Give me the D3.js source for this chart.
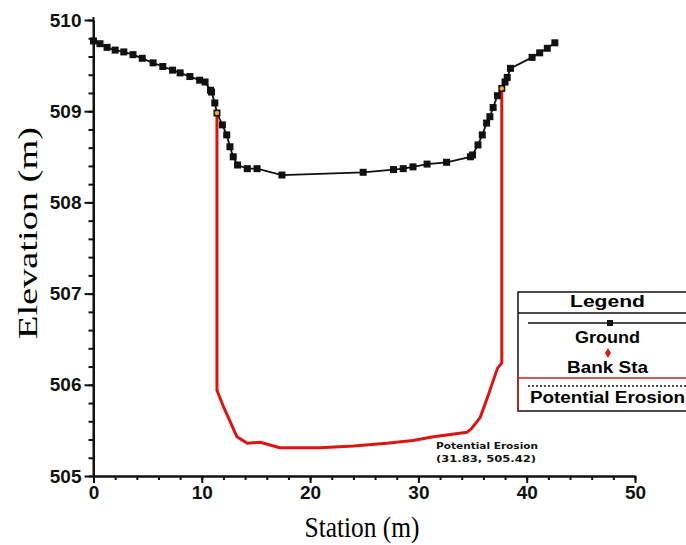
<!DOCTYPE html>
<html>
<head>
<meta charset="utf-8">
<script src="https://cdn.jsdelivr.net/npm/d3@7"></script>
<style>
    body { margin: 0; background: #fff; }
    svg { display: block; }
    .axis path, .axis line { stroke: #111; }
    .axis text { font-family: Arial, 'Liberation Sans', sans-serif; font-weight: bold; font-size: 19px; fill: #111; }
</style>
</head>
<body>
<div id="chart"></div>
<script>
// ground profile (station m, elevation m)
const groundStation = [0, 0.6, 1.25, 2.0, 2.8, 3.65, 4.5, 5.5, 6.4, 7.3, 8.0, 8.9, 9.8, 10.3, 10.8, 10.9, 11.2, 11.4,
    11.9, 12.3, 12.6, 12.9, 13.3, 14.2, 15.1, 17.4, 24.9, 27.7, 28.6, 29.5, 30.8, 32.6, 34.8,
    35.0, 35.5, 35.9, 36.3, 36.6, 36.9, 37.3, 37.7, 38.0, 38.2, 38.5, 40.5, 41.2, 41.9, 42.6];
const groundElevation = [509.77, 509.74, 509.70, 509.67, 509.65, 509.62, 509.58, 509.53, 509.49, 509.45, 509.42, 509.38, 509.34, 509.32, 509.23, 509.21, 509.09, 508.98,
    508.85, 508.74, 508.61, 508.50, 508.41, 508.37, 508.37, 508.30, 508.33, 508.36, 508.37, 508.39, 508.42, 508.44, 508.50,
    508.52, 508.63, 508.74, 508.87, 508.94, 509.04, 509.17, 509.25, 509.32, 509.37, 509.47, 509.59, 509.64, 509.69, 509.75];

// potential erosion profile
const erosionStation = [11.4, 11.4, 12.0, 13.25, 14.2, 15.4, 17.2, 20.9, 24.0, 27.1, 29.5, 31.4, 34.5, 34.9, 35.7, 36.4, 37.3, 37.7, 37.7];
const erosionElevation = [508.98, 505.94, 505.76, 505.43, 505.36, 505.37, 505.31, 505.31, 505.33, 505.36, 505.39, 505.43, 505.48, 505.52, 505.64, 505.87, 506.18, 506.24, 509.25];

// bank stations
const bankStation = [11.4, 37.7];
const bankElevation = [508.98, 509.25];

const xTicks = [0, 10, 20, 30, 40, 50];
const yTicks = [505, 506, 507, 508, 509, 510];

const annotation = ['Potential Erosion', '(31.83, 505.42)'];
const legendItems = ['Ground', 'Bank Sta', 'Potential Erosion'];

const W = 686, H = 545;
const margins = { left: 93.5, top: 20, right: 51, bottom: 69 };

const svg = d3.select('#chart').append('svg')
    .attr('width', W)
    .attr('height', H);

const x = d3.scaleLinear().domain([0, 50]).range([margins.left, W - margins.right]);
const y = d3.scaleLinear().domain([505, 510]).range([H - margins.bottom, margins.top]);

const ground = groundStation.map((s, i) => [s, groundElevation[i]]);
const erosion = erosionStation.map((s, i) => [s, erosionElevation[i]]);
const banks = bankStation.map((s, i) => [s, bankElevation[i]]);

const line = d3.line().x(d => x(d[0])).y(d => y(d[1]));

// Axes
const minorX = d3.range(0, 50.01, 2);
const minorY = d3.range(505, 510.01, 0.2);

svg.append('g')
    .attr('class', 'axis')
    .attr('transform', 'translate(0,' + y(505) + ')')
    .call(d3.axisBottom(x).tickValues(minorX).tickSize(4).tickSizeOuter(0).tickFormat(''))
    .call(g => g.selectAll('line, path').attr('stroke-width', 2));

svg.append('g')
    .attr('class', 'axis')
    .attr('transform', 'translate(0,' + y(505) + ')')
    .call(d3.axisBottom(x).tickValues(xTicks).tickSize(7).tickSizeOuter(0).tickPadding(3).tickFormat(d3.format('d')))
    .call(g => g.selectAll('line, path').attr('stroke-width', 2));

svg.append('g')
    .attr('class', 'axis')
    .attr('transform', 'translate(' + x(0) + ',0)')
    .call(d3.axisLeft(y).tickValues(minorY).tickSize(5).tickSizeOuter(0).tickFormat(''))
    .call(g => g.selectAll('line, path').attr('stroke-width', 2));

svg.append('g')
    .attr('class', 'axis')
    .attr('transform', 'translate(' + x(0) + ',0)')
    .call(d3.axisLeft(y).tickValues(yTicks).tickSize(9).tickSizeOuter(0).tickPadding(3).tickFormat(d3.format('d')))
    .call(g => g.selectAll('line, path').attr('stroke-width', 2))
    .call(g => g.select('.domain').attr('d', 'M0,' + y(505) + 'V' + (y(510) - 3)));

// Axis titles
svg.append('text')
    .attr('x', 362)
    .attr('y', 537)
    .attr('text-anchor', 'middle')
    .attr('font-family', "'Liberation Serif', 'Times New Roman', serif")
    .attr('font-size', 30)
    .attr('textLength', 115)
    .attr('lengthAdjust', 'spacingAndGlyphs')
    .text('Station (m)');

svg.append('text')
    .attr('transform', 'translate(37,233) rotate(-90)')
    .attr('text-anchor', 'middle')
    .attr('font-family', "'Liberation Serif', 'Times New Roman', serif")
    .attr('font-size', 27)
    .attr('textLength', 212)
    .attr('lengthAdjust', 'spacingAndGlyphs')
    .text('Elevation (m)');

// Erosion line
svg.append('path')
    .datum(erosion)
    .attr('fill', 'none')
    .attr('stroke', '#dc1414')
    .attr('stroke-width', 3)
    .attr('stroke-linejoin', 'round')
    .attr('d', line);

// Ground line
svg.append('path')
    .datum(ground)
    .attr('fill', 'none')
    .attr('stroke', '#111')
    .attr('stroke-width', 1.8)
    .attr('d', line);

svg.selectAll('.gpt')
    .data(ground)
    .enter().append('rect')
    .attr('class', 'gpt')
    .attr('x', d => x(d[0]) - 3.5)
    .attr('y', d => y(d[1]) - 3.5)
    .attr('width', 7)
    .attr('height', 7)
    .attr('fill', '#111');

// Bank stations
svg.selectAll('.bank')
    .data(banks)
    .enter().append('circle')
    .attr('class', 'bank')
    .attr('cx', d => x(d[0]))
    .attr('cy', d => y(d[1]))
    .attr('r', 2.2)
    .attr('fill', '#f0a830');

// Annotation
svg.selectAll('.note')
    .data(annotation)
    .enter().append('text')
    .attr('class', 'note')
    .attr('x', 436)
    .attr('y', (d, i) => 449 + i * 13)
    .attr('font-family', "Verdana, 'DejaVu Sans', sans-serif")
    .attr('font-weight', 'bold')
    .attr('font-size', 9)
    .attr('textLength', (d, i) => i ? 100 : 102)
    .attr('lengthAdjust', 'spacingAndGlyphs')
    .attr('fill', '#111')
    .text(d => d);

// Legend
const lg = svg.append('g');
const lx = 518, lw = 178, cx = 607.5;

lg.append('rect')
    .attr('x', lx).attr('y', 292)
    .attr('width', lw).attr('height', 119)
    .attr('fill', '#fff')
    .attr('stroke', '#111')
    .attr('stroke-width', 1.5);

lg.append('line')
    .attr('x1', lx).attr('x2', lx + lw)
    .attr('y1', 313).attr('y2', 313)
    .attr('stroke', '#111').attr('stroke-width', 1.5);

lg.append('line')
    .attr('x1', lx).attr('x2', lx + lw)
    .attr('y1', 378).attr('y2', 378)
    .attr('stroke', '#c82020').attr('stroke-width', 1.5);

lg.append('line')
    .attr('x1', lx).attr('x2', lx)
    .attr('y1', 378).attr('y2', 411)
    .attr('stroke', '#c82020').attr('stroke-width', 1.5);

lg.append('line')
    .attr('x1', 528).attr('x2', lx + lw)
    .attr('y1', 323).attr('y2', 323)
    .attr('stroke', '#111').attr('stroke-width', 1.3);

lg.append('rect')
    .attr('x', 607).attr('y', 320)
    .attr('width', 6).attr('height', 6)
    .attr('fill', '#111');

lg.append('path')
    .attr('d', d3.symbol(d3.symbolDiamond, 30)())
    .attr('transform', 'translate(608,353)')
    .attr('fill', '#d81818');

lg.append('line')
    .attr('x1', 528).attr('x2', lx + lw)
    .attr('y1', 386).attr('y2', 386)
    .attr('stroke', '#111').attr('stroke-width', 1.5)
    .attr('stroke-dasharray', '2,2');

const legendFont = "Arial, 'Liberation Sans', sans-serif";

lg.append('text')
    .attr('x', cx).attr('y', 307)
    .attr('text-anchor', 'middle')
    .attr('font-family', legendFont)
    .attr('font-weight', 'bold')
    .attr('font-size', 17)
    .attr('textLength', 75)
    .attr('lengthAdjust', 'spacingAndGlyphs')
    .text('Legend');

lg.append('text')
    .attr('x', cx).attr('y', 343)
    .attr('text-anchor', 'middle')
    .attr('font-family', legendFont)
    .attr('font-weight', 'bold')
    .attr('font-size', 16)
    .attr('textLength', 65)
    .attr('lengthAdjust', 'spacingAndGlyphs')
    .text(legendItems[0]);

lg.append('text')
    .attr('x', cx).attr('y', 373)
    .attr('text-anchor', 'middle')
    .attr('font-family', legendFont)
    .attr('font-weight', 'bold')
    .attr('font-size', 16)
    .attr('textLength', 81)
    .attr('lengthAdjust', 'spacingAndGlyphs')
    .text(legendItems[1]);

lg.append('text')
    .attr('x', 530).attr('y', 403)
    .attr('font-family', legendFont)
    .attr('font-weight', 'bold')
    .attr('font-size', 16)
    .attr('textLength', 155)
    .attr('lengthAdjust', 'spacingAndGlyphs')
    .text(legendItems[2]);
</script>
</body>
</html>
